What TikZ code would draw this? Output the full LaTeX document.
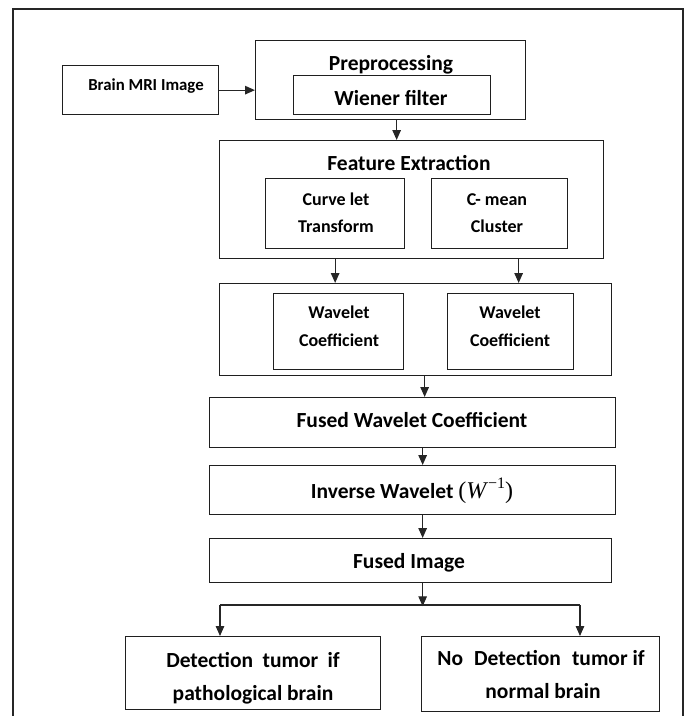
\documentclass[tikz,border=0pt]{standalone}
\usepackage{fontspec}
\setmainfont{Carlito}
\newfontfamily\wfont{Liberation Serif}
\usetikzlibrary{arrows.meta,calc}
\begin{document}
\begin{tikzpicture}[x=1pt,y=-1pt,
  box/.style={draw=black!88, line width=1.3pt, anchor=north west, inner sep=0pt},
  conn/.style={draw=black!85, line width=1.3pt},
  arr/.style={conn, -{Triangle[length=10pt,width=8.5pt]}},
  big/.style={font=\fontsize{21.5}{26}\selectfont\bfseries, inner sep=0pt, anchor=mid, yshift=-5pt},
  mid/.style={font=\fontsize{18}{22}\selectfont\bfseries, inner sep=0pt, anchor=mid, yshift=-4pt},
  small/.style={font=\fontsize{16.8}{20}\selectfont\bfseries, inner sep=0pt, anchor=mid, yshift=-4pt},
]
\useasboundingbox (0,0) rectangle (688,716);

% outer frame, open at the bottom
\draw[black!85, line width=1.3pt] (13,716) -- (13,9) -- (683,9) -- (683,716);

% input image
\node[box, minimum width=156pt, minimum height=49pt] (mri) at (62,65) {};
\node[small] (mriT) at (146,84) {Brain MRI Image};

% preprocessing stage
\node[box, minimum width=270pt, minimum height=79pt] (pre) at (255,40) {};
\node[big] (preT) at (391,63) {Preprocessing};
\node[box, minimum width=197pt, minimum height=39pt] (wien) at (293,75) {};
\node[big] (wienT) at (391,98) {Wiener filter};

% feature extraction stage
\node[box, minimum width=384pt, minimum height=118pt] (feat) at (219,140) {};
\node[big] (featT) at (409,163) {Feature Extraction};
\node[box, minimum width=139pt, minimum height=70pt] (curve) at (265,178) {};
\node[mid] (curveA) at (336,199) {Curve let};
\node[mid] (curveB) at (336,226) {Transform};
\node[box, minimum width=136pt, minimum height=70pt] (cmean) at (431,178) {};
\node[mid] (cmeanA) at (497,199) {C- mean};
\node[mid] (cmeanB) at (497,226) {Cluster};

% wavelet coefficients
\node[box, minimum width=392pt, minimum height=92pt] (wav) at (219,283) {};
\node[box, minimum width=130pt, minimum height=76pt] (wa) at (273,293) {};
\node[mid] (waA) at (339,312) {Wavelet};
\node[mid] (waB) at (339,340) {Coefficient};
\node[box, minimum width=126pt, minimum height=76pt] (wb) at (447,293) {};
\node[mid] (wbA) at (510,312) {Wavelet};
\node[mid] (wbB) at (510,340) {Coefficient};

% fusion and reconstruction
\node[box, minimum width=406pt, minimum height=50pt] (fwc) at (209,397) {};
\node[big] (fwcT) at (412,420) {Fused Wavelet Coefficient};
\node[box, minimum width=406pt, minimum height=49pt] (inv) at (209,465) {};
\node[big] (invT) at (412,491) {Inverse Wavelet {\wfont\mdseries\fontsize{24}{26}\selectfont(\textit{W}\raisebox{0.42em}{\fontsize{16}{16}\selectfont −1})}};
\node[box, minimum width=402pt, minimum height=44pt] (fimg) at (209,538) {};
\node[big] (fimgT) at (409,561) {Fused Image};

% decisions
\node[box, minimum width=255pt, minimum height=73pt] (left) at (125,636) {};
\node[big] (leftA) at (253,660) {Detection\hskip 9.4pt tumor\hskip 9.4pt if};
\node[big] (leftB) at (253,693) {pathological brain};
\node[box, minimum width=238pt, minimum height=75pt] (right) at (421,636) {};
\node[big] (rightA) at (541,658) {No\hskip 11pt Detection\hskip 11pt tumor if};
\node[big] (rightB) at (543,691) {normal brain};

% connectors
\draw[arr] (mri.east) -- (pre.west |- mri.east);
\draw[arr] ([xshift=6pt]pre.south) -- ([xshift=6pt]pre.south |- feat.north);
\draw[arr] (curve.south |- feat.south) -- (curve.south |- wav.north);
\draw[arr] ([xshift=19pt]cmean.south |- feat.south) -- ([xshift=19pt]cmean.south |- wav.north);
\draw[arr] ([xshift=9pt]wav.south) -- ([xshift=9pt]wav.south |- fwc.north);
\draw[arr] ([xshift=10pt]fwc.south) -- ([xshift=10pt]fwc.south |- inv.north);
\draw[arr] ([xshift=10pt]inv.south) -- ([xshift=10pt]inv.south |- fimg.north);
\coordinate (split) at ($(fimg.south)+(12,23)$);
\coordinate (jl) at (220,605);
\coordinate (jr) at (580,605);
\draw[arr] ([xshift=12pt]fimg.south) -- (split);
\draw[conn] (jl) -- (jr);
\draw[arr] (jl) -- (jl |- left.north);
\draw[arr] (jr) -- (jr |- right.north);
\end{tikzpicture}
\end{document}
